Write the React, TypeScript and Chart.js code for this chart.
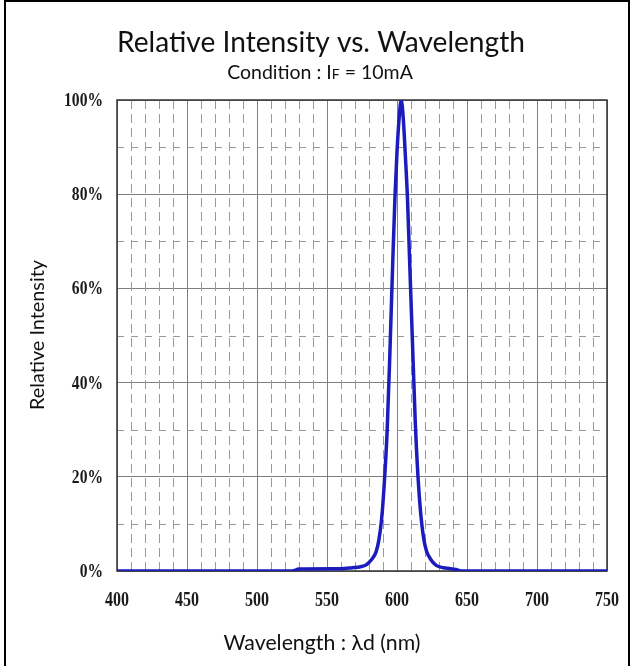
import React, { useEffect, useRef } from 'react';
import { Chart, registerables } from 'chart.js';

Chart.register(...registerables);

// ---- Data ----
const wavelengths = [400, 525, 530, 555, 560, 568, 574, 578, 582, 585, 587, 589, 591, 593, 595, 597, 598.5, 600, 601.5, 603, 604.5, 606, 607.5, 609, 611, 613, 615, 617, 619, 621, 624, 628, 633, 638, 642, 646, 750];
const intensity = [0, 0, 0.4, 0.5, 0.5, 0.7, 0.9, 1.3, 2.5, 4, 6.5, 11, 19, 30, 47, 66, 79, 89, 96, 100, 96, 88, 79, 66, 49, 32, 20, 12, 7, 4.3, 2.5, 1.2, 0.7, 0.5, 0.3, 0, 0];

const xTickValues = [400, 450, 500, 550, 600, 650, 700, 750];
const xTickLabels = ['400', '450', '500', '550', '600', '650', '700', '750'];
const yTickValues = [0, 20, 40, 60, 80, 100];
const yTickLabels = ['0%', '20%', '40%', '60%', '80%', '100%'];

const titleText = 'Relative Intensity vs. Wavelength';
const subtitleParts = ['Condition : I', 'F', ' = 10mA'];
const xAxisTitle = 'Wavelength : λd (nm)';
const yAxisTitle = 'Relative Intensity';

const SANS = 'Lato, "Open Sans", sans-serif';

function fitFont(ctx: CanvasRenderingContext2D, text: string, target: number, family: string, base = 20) {
  ctx.font = `${base}px ${family}`;
  const w = ctx.measureText(text).width;
  return (base * target) / w;
}

const customPlugin = {
  id: 'customDraw',
  beforeDraw(chart: any) {
    const { ctx, width, height } = chart;
    ctx.save();
    ctx.fillStyle = '#ffffff';
    ctx.fillRect(0, 0, width, height);
    ctx.restore();
  },
  beforeDatasetsDraw(chart: any) {
    const { ctx, chartArea, scales } = chart;
    const { left, right, top, bottom } = chartArea;
    const x = scales.x;
    const y = scales.y;
    ctx.save();
    ctx.strokeStyle = '#9a9a9a';
    ctx.lineWidth = 1;
    // minor vertical dashed lines every 10 nm
    ctx.setLineDash([9, 5]);
    for (let v = 410; v < 750; v += 10) {
      if (v % 50 === 0) continue;
      const px = Math.round(x.getPixelForValue(v)) + 0.5;
      ctx.beginPath();
      ctx.moveTo(px, bottom);
      ctx.lineTo(px, top);
      ctx.stroke();
    }
    // minor horizontal dashed lines at odd tens of percent
    ctx.setLineDash([7, 7]);
    for (let v = 10; v < 100; v += 20) {
      const py = Math.round(y.getPixelForValue(v)) + 0.5;
      ctx.beginPath();
      ctx.moveTo(left, py);
      ctx.lineTo(right, py);
      ctx.stroke();
    }
    ctx.setLineDash([]);
    // plot frame
    ctx.strokeStyle = '#333333';
    ctx.lineWidth = 1.5;
    ctx.strokeRect(left, top, right - left, bottom - top);
    ctx.restore();
  },
  afterDraw(chart: any) {
    const { ctx, scales } = chart;
    const x = scales.x;
    const y = scales.y;
    ctx.save();
    // tick labels (bold, condensed serif)
    ctx.fillStyle = '#1a1a1a';
    ctx.font = 'bold 20px "Liberation Serif", "Times New Roman", serif';
    ctx.textBaseline = 'middle';
    xTickValues.forEach((v, i) => {
      const px = x.getPixelForValue(v);
      ctx.save();
      ctx.translate(px, 601);
      ctx.scale(0.8, 1);
      ctx.textAlign = 'center';
      ctx.fillText(xTickLabels[i], 0, 0);
      ctx.restore();
    });
    ctx.font = 'bold 19px "Liberation Serif", "Times New Roman", serif';
    yTickValues.forEach((v, i) => {
      const py = y.getPixelForValue(v);
      ctx.save();
      ctx.translate(103, py + 1);
      ctx.scale(0.82, 1);
      ctx.textAlign = 'right';
      ctx.fillText(yTickLabels[i], 0, 0);
      ctx.restore();
    });

    // titles
    ctx.fillStyle = '#111111';
    ctx.textAlign = 'center';
    ctx.textBaseline = 'middle';
    const tSize = fitFont(ctx, titleText, 408, SANS);
    ctx.font = `${tSize}px ${SANS}`;
    ctx.fillText(titleText, 321, 43);

    // subtitle with small F
    const sSize = 19.5;
    const smallSize = 14;
    ctx.textAlign = 'left';
    ctx.textBaseline = 'alphabetic';
    ctx.font = `${sSize}px ${SANS}`;
    const w0 = ctx.measureText(subtitleParts[0]).width;
    const w2 = ctx.measureText(subtitleParts[2]).width;
    ctx.font = `${smallSize}px ${SANS}`;
    const w1 = ctx.measureText(subtitleParts[1]).width;
    const total = w0 + w1 + w2;
    let sx = 320 - total / 2;
    const sBase = 79;
    ctx.font = `${sSize}px ${SANS}`;
    ctx.fillText(subtitleParts[0], sx, sBase);
    sx += w0;
    ctx.font = `${smallSize}px ${SANS}`;
    ctx.fillText(subtitleParts[1], sx, sBase);
    sx += w1;
    ctx.font = `${sSize}px ${SANS}`;
    ctx.fillText(subtitleParts[2], sx, sBase);

    // axis titles
    ctx.textAlign = 'center';
    ctx.textBaseline = 'middle';
    const xs = fitFont(ctx, xAxisTitle, 197, SANS);
    ctx.font = `${xs}px ${SANS}`;
    ctx.fillText(xAxisTitle, 322, 643);
    const ys = fitFont(ctx, yAxisTitle, 150, SANS);
    ctx.save();
    ctx.translate(38, 335);
    ctx.rotate(-Math.PI / 2);
    ctx.font = `${ys}px ${SANS}`;
    ctx.fillText(yAxisTitle, 0, 0);
    ctx.restore();

    // outer frame (left, top, right)
    ctx.fillStyle = '#000000';
    ctx.fillRect(4, 0, 2, 666);
    ctx.fillRect(4, 0, 626, 2);
    ctx.fillRect(628, 0, 2, 666);
    ctx.restore();
  },
};

export default function App() {
  const canvasRef = useRef<HTMLCanvasElement | null>(null);

  useEffect(() => {
    if (!canvasRef.current) return;
    const points = wavelengths.map((w, i) => ({ x: w, y: intensity[i] }));
    const chart = new Chart(canvasRef.current, {
      type: 'line',
      data: {
        datasets: [
          {
            label: 'Relative Intensity',
            data: points,
            borderColor: '#1c1cbc',
            borderWidth: 3.5,
            pointRadius: 0,
            fill: false,
            cubicInterpolationMode: 'monotone',
          },
        ],
      },
      options: {
        responsive: false,
        animation: false,
        devicePixelRatio: 1,
        layout: { padding: { left: 0, top: 100, right: 26, bottom: 0 } },
        plugins: {
          legend: { display: false },
          tooltip: { enabled: false },
          title: { display: false },
        },
        scales: {
          x: {
            type: 'linear',
            min: 400,
            max: 750,
            ticks: { display: false, stepSize: 50 },
            grid: { color: '#808080', lineWidth: 1, drawTicks: false },
            border: { display: false },
            afterFit: (s: any) => {
              s.height = 95;
            },
          },
          y: {
            type: 'linear',
            min: 0,
            max: 100,
            ticks: { display: false, stepSize: 20 },
            grid: { color: '#808080', lineWidth: 1, drawTicks: false },
            border: { display: false },
            afterFit: (s: any) => {
              s.width = 117;
            },
          },
        },
      },
      plugins: [customPlugin],
    });
    return () => chart.destroy();
  }, []);

  return (
    <div style={{ position: 'fixed', left: 0, top: 0, width: 633, height: 666, background: '#fff' }}>
      <canvas ref={canvasRef} width={633} height={666} style={{ display: 'block' }} />
    </div>
  );
}
